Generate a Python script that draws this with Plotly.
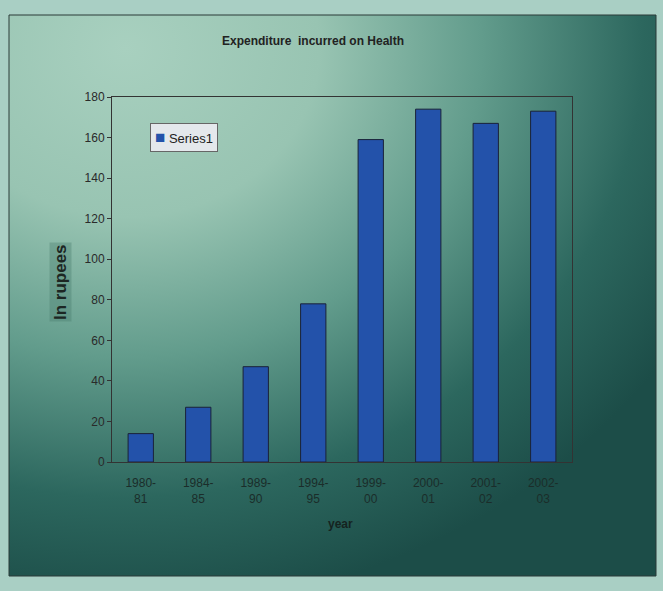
import base64
import plotly.graph_objects as go

# ---- data ----
categories = ["1980-<br>81", "1984-<br>85", "1989-<br>90", "1994-<br>95",
              "1999-<br>00", "2000-<br>01", "2001-<br>02", "2002-<br>03"]
series1 = [14, 27, 47, 78, 159, 174, 167, 173]
y_ticks = [0, 20, 40, 60, 80, 100, 120, 140, 160, 180]
series_name = "Series1"

W, H = 663, 591
L, R, T, B = 112, 91, 97, 129
pw, ph = W - L - R, H - T - B

def px_x(x):
    return (x - L) / pw

def px_y(y):
    return (H - B - y) / ph

svg = (
    '<svg xmlns="http://www.w3.org/2000/svg" width="400" height="400" '
    'viewBox="0 0 400 400" preserveAspectRatio="none">'
    '<defs><radialGradient id="g" cx="0.18" cy="0.06" r="1.0" fx="0.18" fy="0.06">'
    '<stop offset="0" stop-color="#a8d0bf"/>'
    '<stop offset="0.3" stop-color="#98c4b2"/>'
    '<stop offset="0.55" stop-color="#629c8c"/>'
    '<stop offset="0.8" stop-color="#2c675e"/>'
    '<stop offset="1" stop-color="#1c4d48"/>'
    '</radialGradient></defs>'
    '<rect x="0" y="0" width="400" height="400" fill="url(#g)"/></svg>'
)
src = "data:image/svg+xml;base64," + base64.b64encode(svg.encode()).decode()

fx0, fx1, fy0, fy1 = 9, 656, 15, 576

fig = go.Figure()
fig.add_trace(go.Bar(
    x=categories, y=series1, name=series_name,
    marker=dict(color="#2352aa", line=dict(color="#1a2238", width=1)),
    showlegend=False,
))

fig.update_layout(
    width=W, height=H,
    margin=dict(l=L, r=R, t=T, b=B),
    paper_bgcolor="#a9cfc4",
    plot_bgcolor="#b5c1cd",
    bargap=0.56,
    font=dict(family="Liberation Sans, Arial, sans-serif", size=11, color="#2a2a2a"),
    images=[dict(source=src, xref="paper", yref="paper",
                 x=px_x(fx0), y=px_y(fy0),
                 sizex=(fx1 - fx0) / pw, sizey=(fy1 - fy0) / ph,
                 sizing="stretch", xanchor="left", yanchor="top",
                 layer="below")],
    shapes=[dict(type="rect", xref="paper", yref="paper",
                 x0=px_x(fx0), x1=px_x(fx1), y0=px_y(fy1), y1=px_y(fy0),
                 line=dict(color="#2b3b38", width=1), layer="below")],
    annotations=[
        dict(text="<b>Expenditure  incurred on Health</b>", xref="paper", yref="paper",
             x=px_x(313), y=px_y(41), xanchor="center", yanchor="middle",
             showarrow=False, font=dict(size=12, color="#222")),
        dict(text="<b>In rupees</b>", xref="paper", yref="paper",
             x=px_x(60), y=px_y(282), xanchor="center", yanchor="middle",
             showarrow=False, textangle=-90,
             bgcolor="rgba(70,120,105,0.35)",
             font=dict(size=17, color="#1c2623")),
        dict(text="<b>year</b>", xref="paper", yref="paper",
             x=px_x(340), y=px_y(524), xanchor="center", yanchor="middle",
             showarrow=False, font=dict(size=12, color="#15231f")),
        dict(text='<span style="color:#2352aa;font-size:17px">■</span> ' + series_name,
             xref="paper", yref="paper",
             x=px_x(150), y=px_y(123), xanchor="left", yanchor="top",
             showarrow=False, bgcolor="#e4e8ec", bordercolor="#666",
             borderwidth=1, borderpad=4,
             font=dict(size=13, color="#222")),
    ],
)

fig.update_xaxes(
    showline=True, linecolor="#333", linewidth=1, mirror=True,
    showgrid=False, ticks="", ticklabelstandoff=10,
    tickfont=dict(size=12, color="#1b2d2a"),
)
fig.update_yaxes(
    range=[0, 180], tickvals=y_ticks, showgrid=False,
    showline=True, linecolor="#333", linewidth=1, mirror=True,
    ticks="outside", ticklen=4, tickcolor="#333",
    tickfont=dict(size=12, color="#2a2a2a"), zeroline=False,
)

fig.write_html(
    "out.html",
    config={"displayModeBar": False},
    post_script="document.body.style.margin='0';document.body.style.background='#a9cfc4';",
)
